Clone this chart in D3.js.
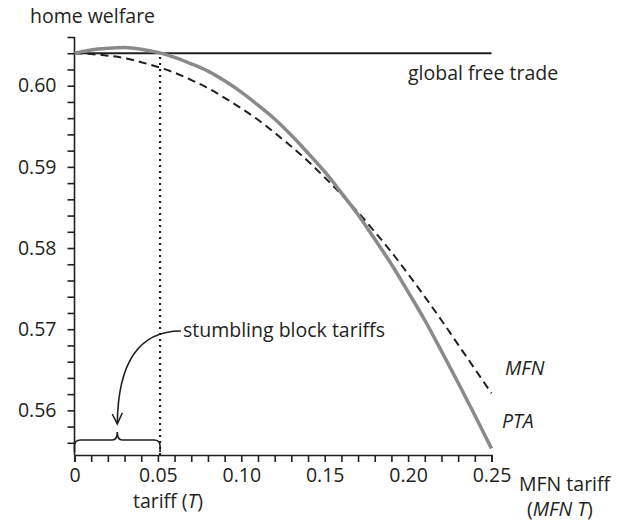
<!DOCTYPE html>
<html>
<head>
<meta charset="utf-8">
<script src="https://cdn.jsdelivr.net/npm/d3@7"></script>
<style>
  body { margin: 0; background: #fff; }
  svg text { font-family: 'Open Sans', 'Noto Sans', sans-serif; fill: #231f20; }
</style>
</head>
<body>
<div class="chart"></div>
<script>
// tariff levels (T), every 0.01
const tariffs = [0, 0.01, 0.02, 0.03, 0.04, 0.05, 0.06, 0.07, 0.08, 0.09, 0.10, 0.11, 0.12,
  0.13, 0.14, 0.15, 0.16, 0.17, 0.18, 0.19, 0.20, 0.21, 0.22, 0.23, 0.24, 0.25];

// home welfare under a PTA (grey curve)
const ptaWelfare = [0.6040, 0.6044, 0.6046, 0.6047, 0.6045, 0.6041, 0.6035, 0.6027, 0.6018, 0.6006,
  0.5992, 0.5976, 0.5959, 0.5939, 0.5917, 0.5894, 0.5868, 0.5841, 0.5811, 0.5780, 0.5746,
  0.5711, 0.5673, 0.5634, 0.5594, 0.5553];

// home welfare under MFN tariffs (dashed curve)
const mfnWelfare = [0.6040, 0.6039, 0.6037, 0.6034, 0.6029, 0.6023, 0.6016, 0.6007, 0.5997, 0.5985,
  0.5972, 0.5958, 0.5942, 0.5925, 0.5907, 0.5887, 0.5866, 0.5844, 0.5820, 0.5795, 0.5768,
  0.5740, 0.5711, 0.5681, 0.5651, 0.5621];

const freeTradeWelfare = 0.6040;
const stumblingLimit = 0.0513;

const yMajorTicks = [0.56, 0.57, 0.58, 0.59, 0.60];
const xMajorTicks = [0, 0.05, 0.10, 0.15, 0.20, 0.25];

const width = 627, height = 522;

const svg = d3.select('.chart').append('svg')
  .attr('width', width)
  .attr('height', height);

const x = d3.scaleLinear().domain([0, 0.25]).range([74.5, 491.5]);
const y = d3.scaleLinear().domain([0.5545, 0.606]).range([455, 37]);

const ink = '#231f20';

// y axis with a tick every 0.002
const yMinor = d3.range(0, 26).map(i => +(0.556 + i * 0.002).toFixed(3));
const yAxis = svg.append('g')
  .attr('transform', `translate(${x(0)},0)`)
  .call(d3.axisLeft(y)
    .tickValues(yMinor)
    .tickSize(7)
    .tickPadding(11)
    .tickFormat(d => yMajorTicks.some(t => Math.abs(t - d) < 1e-9) ? d3.format('.2f')(d) : ''));
yAxis.select('.domain').attr('d', `M0,${y(0.5545)}V${y(0.606)}`);

// x axis with a tick every 0.01
const xAxis = svg.append('g')
  .attr('transform', `translate(0,${y(0.5545)})`)
  .call(d3.axisBottom(x)
    .tickValues(tariffs)
    .tickSize(7)
    .tickPadding(6)
    .tickFormat(d => xMajorTicks.some(t => Math.abs(t - d) < 1e-9) ? (d === 0 ? '0' : d3.format('.2f')(d)) : ''));

svg.selectAll('.tick text').style('font-size', '19.5px').attr('fill', ink);
svg.selectAll('.domain, .tick line').attr('stroke', ink).attr('stroke-width', 1.6);

// global free trade level
svg.append('line')
  .attr('x1', x(0)).attr('x2', x(0.25))
  .attr('y1', y(freeTradeWelfare)).attr('y2', y(freeTradeWelfare))
  .attr('stroke', ink).attr('stroke-width', 2);

// stumbling block boundary
svg.append('line')
  .attr('x1', x(stumblingLimit)).attr('x2', x(stumblingLimit))
  .attr('y1', y(0.5545)).attr('y2', y(freeTradeWelfare))
  .attr('stroke', ink).attr('stroke-width', 2.2)
  .attr('stroke-dasharray', '2 4').attr('stroke-linecap', 'butt');

const line = d3.line().curve(d3.curveMonotoneX);

svg.append('path')
  .attr('d', line(tariffs.map((t, i) => [x(t), y(mfnWelfare[i])])))
  .attr('fill', 'none').attr('stroke', ink).attr('stroke-width', 2)
  .attr('stroke-dasharray', '8 5');

svg.append('path')
  .attr('d', line(tariffs.map((t, i) => [x(t), y(ptaWelfare[i])])))
  .attr('fill', 'none').attr('stroke', '#8a8a8a').attr('stroke-width', 3.5);

// brace under the stumbling block range
const bx0 = x(0), bx1 = x(stumblingLimit), bm = (bx0 + bx1) / 2, by = 440;
svg.append('path')
  .attr('d', `M${bx0},${by + 12} V${by + 6} Q${bx0},${by} ${bx0 + 6},${by} H${bm - 5} Q${bm},${by} ${bm},${by - 8}` +
    ` Q${bm},${by} ${bm + 5},${by} H${bx1 - 6} Q${bx1},${by} ${bx1},${by + 6} V${by + 12}`)
  .attr('fill', 'none').attr('stroke', ink).attr('stroke-width', 1.6);

// curved arrow from the annotation to the brace
svg.append('path')
  .attr('d', `M181,331 C140,331 118,360 ${bm},424`)
  .attr('fill', 'none').attr('stroke', ink).attr('stroke-width', 1.6);
svg.append('path')
  .attr('d', `M${bm - 5},414 L${bm},424 L${bm + 5},413`)
  .attr('fill', 'none').attr('stroke', ink).attr('stroke-width', 1.6);

const label = (tx, ty, parts, anchor) => {
  const t = svg.append('text')
    .attr('x', tx).attr('y', ty)
    .attr('text-anchor', anchor || 'start')
    .style('font-size', '19.5px');
  parts.forEach(p => {
    t.append('tspan').text(p[0]).style('font-style', p[1] ? 'italic' : 'normal');
  });
  return t;
};

label(30, 23, [['home welfare']]);
label(408, 80, [['global free trade']]);
label(183, 337, [['stumbling block tariffs']]);
label(505, 375, [['MFN', true]]);
label(502, 428, [['PTA', true]]);
label(168, 508, [['tariff ('], ['T', true], [')']], 'middle');
label(519, 491, [['MFN tariff']]);
label(527, 516, [['('], ['MFN T', true], [')']]);
</script>
</body>
</html>
